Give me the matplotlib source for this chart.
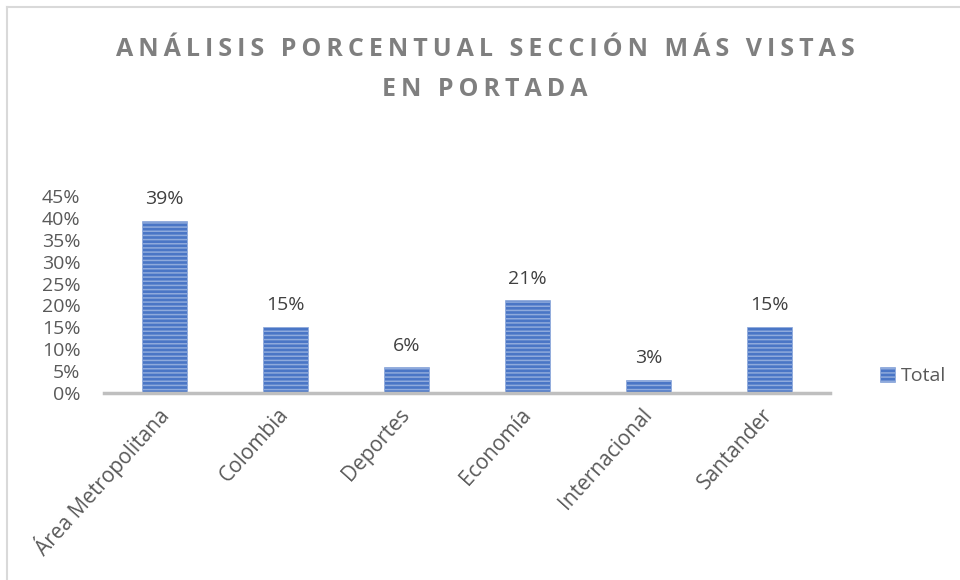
import numpy as np
import matplotlib as mpl
mpl.use('Agg')
import matplotlib.pyplot as plt
from matplotlib.patches import Patch
from matplotlib.ticker import FuncFormatter

categories = ['Área Metropolitana', 'Colombia', 'Deportes', 'Economía', 'Internacional', 'Santander']
values = [0.394, 0.151, 0.059, 0.212, 0.030, 0.151]
yticks = [0, 0.05, 0.10, 0.15, 0.20, 0.25, 0.30, 0.35, 0.40, 0.45]
title_lines = ['ANÁLISIS PORCENTUAL SECCIÓN MÁS VISTAS', 'EN PORTADA']

plt.rcParams['font.family'] = ['Open Sans', 'DejaVu Sans']
plt.rcParams['hatch.color'] = '#dfe7f6'
plt.rcParams['hatch.linewidth'] = 1.1

W, H, DPI = 960, 580, 100
fig = plt.figure(figsize=(W / DPI, H / DPI), dpi=DPI)

# plot area: baseline y=393, 45% at y=196, x from 104 to 830
ax = fig.add_axes([104 / W, 1 - 393 / H, (830 - 104) / W, (393 - 196) / H])

x = np.arange(len(categories))
bars = ax.bar(x, values, width=0.38, color='#4a76c6', edgecolor='#8faadc',
              linewidth=0.5, hatch='----')

ax.set_xlim(-0.5, len(categories) - 0.5)
ax.set_ylim(0, 0.45)
ax.set_yticks(yticks)
ax.yaxis.set_major_formatter(FuncFormatter(lambda v, p: f'{v:.0%}'))
ax.set_xticks(x)
ax.set_xticklabels(categories, rotation=48, ha='right', va='center',
                   rotation_mode='anchor')
ax.tick_params(axis='x', length=0, labelsize=15, colors='#595959', pad=13)
ax.tick_params(axis='y', length=0, labelsize=14, colors='#595959', pad=17)

for s in ['top', 'right', 'left']:
    ax.spines[s].set_visible(False)
ax.spines['bottom'].set_color('#bfbfbf')
ax.spines['bottom'].set_linewidth(2.5)
ax.patch.set_alpha(0)

for xi, v in zip(x, values):
    ax.annotate(f'{v:.0%}', (xi, v), xytext=(0, 9), textcoords='offset points',
                ha='center', va='bottom', fontsize=14, color='#404040')

# letter-spaced title
def spaced(s):
    return '\u2009'.join(s)

fig.text(485 / W, 1 - 49 / H, spaced(title_lines[0]), ha='center', va='center',
         fontsize=18, fontweight='bold', color='#7f7f7f')
fig.text(485 / W, 1 - 89 / H, spaced(title_lines[1]), ha='center', va='center',
         fontsize=18, fontweight='bold', color='#7f7f7f')

handle = Patch(facecolor='#4a76c6', edgecolor='#8faadc', hatch='----', linewidth=0.5)
fig.legend([handle], ['Total'], loc='center left', bbox_to_anchor=(862 / W, 1 - 376 / H),
           frameon=False, fontsize=14, handlelength=0.8, handleheight=0.8,
           handletextpad=0.3, labelcolor='#595959')

# chart border (left and top)
fig.add_artist(plt.Line2D([6.5 / W, 6.5 / W], [0, 1 - 7 / H], transform=fig.transFigure,
                          color='#d9d9d9', linewidth=1.5))
fig.add_artist(plt.Line2D([6.5 / W, 1], [1 - 7 / H, 1 - 7 / H], transform=fig.transFigure,
                          color='#d9d9d9', linewidth=1.5))

fig.savefig('out.png', dpi=DPI)
